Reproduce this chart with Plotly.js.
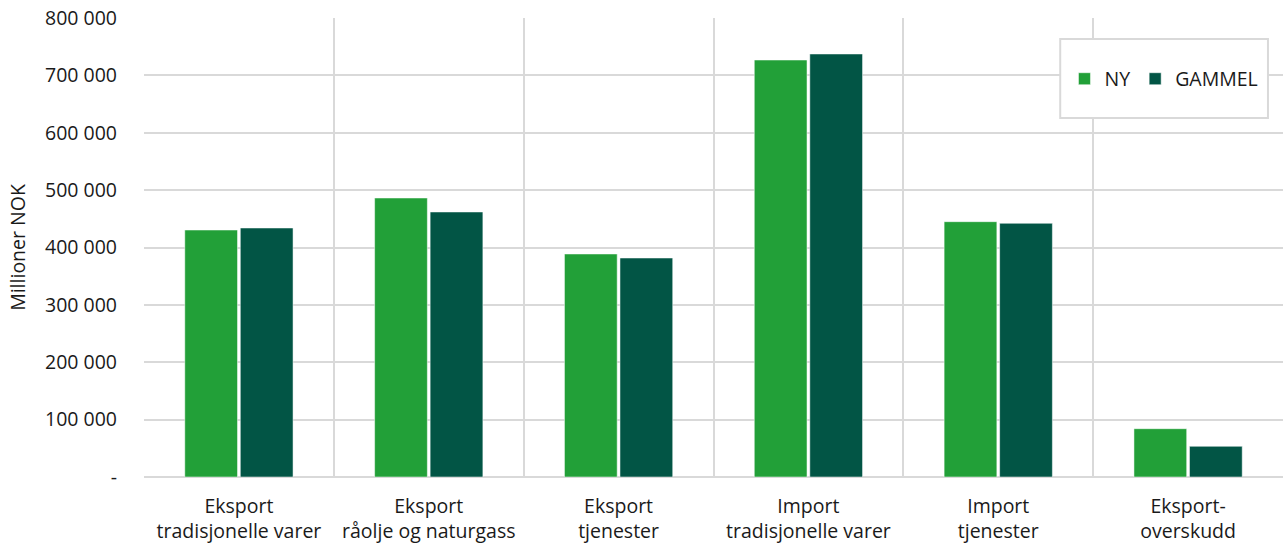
<!DOCTYPE html>
<html>
<head>
<meta charset="utf-8">
<script src="https://cdn.plot.ly/plotly-3.0.1.min.js"></script>
<style>
  html, body { margin: 0; padding: 0; background: #ffffff; }
  #chart { width: 1284px; height: 547px; }
</style>
</head>
<body>
<div id="chart"></div>
<script>
const categories = [
  "Eksport<br>tradisjonelle varer",
  "Eksport<br>råolje og naturgass",
  "Eksport<br>tjenester",
  "Import<br>tradisjonelle varer",
  "Import<br>tjenester",
  "Eksport-<br>overskudd"
];
const nyValues = [430500, 486300, 388700, 726800, 445000, 84200];
const gammelValues = [434000, 461900, 381700, 737300, 442200, 53500];
const yTickVals = [0, 100000, 200000, 300000, 400000, 500000, 600000, 700000, 800000];
const yTickText = ["-", "100 000", "200 000", "300 000", "400 000", "500 000", "600 000", "700 000", "800 000"];

const xPos = categories.map((_, i) => i);
const fontFam = "'Open Sans', 'Noto Sans', sans-serif";
const fsz = 19.5;

const traces = [
  {
    type: "bar", name: "NY", x: xPos, y: nyValues,
    marker: { color: "#22A038", line: { color: "rgba(255,255,255,0.5)", width: 1 } },
    hoverinfo: "y"
  },
  {
    type: "bar", name: "GAMMEL", x: xPos, y: gammelValues,
    marker: { color: "#025545", line: { color: "rgba(255,255,255,0.5)", width: 1 } },
    hoverinfo: "y"
  }
];

const layout = {
  width: 1284, height: 547,
  margin: { l: 144, r: 1, t: 18, b: 70 },
  paper_bgcolor: "#ffffff", plot_bgcolor: "#ffffff",
  font: { family: fontFam, size: fsz, color: "#1a1a1a" },
  barmode: "group",
  bargap: 0.415,
  bargroupgap: 0.05,
  showlegend: true,
  legend: {
    orientation: "h",
    x: 0.8955, xanchor: "center",
    y: 0.867, yanchor: "middle",
    bgcolor: "rgba(0,0,0,0)",
    borderwidth: 0,
    font: { family: fontFam, size: fsz, color: "#1a1a1a" },
    itemwidth: 30
  },
  xaxis: {
    type: "linear",
    range: [-0.5, 5.5],
    tickvals: xPos,
    ticktext: categories,
    showgrid: false,
    zeroline: false,
    ticks: "",
    ticklabelstandoff: 15,
    tickfont: { family: fontFam, size: fsz, color: "#1a1a1a" },
    minor: { tick0: -0.5, dtick: 1, showgrid: true, gridcolor: "#d9d9d9", gridwidth: 2, ticks: "" },
    fixedrange: true
  },
  yaxis: {
    range: [0, 800000],
    tickvals: yTickVals,
    ticktext: yTickText,
    showgrid: true,
    gridcolor: "#d9d9d9",
    gridwidth: 2,
    zeroline: true,
    zerolinecolor: "#d9d9d9",
    zerolinewidth: 2,
    ticks: "",
    ticklabelstandoff: 26,
    tickfont: { family: fontFam, size: fsz, color: "#1a1a1a" },
    title: { text: "Millioner NOK", font: { family: fontFam, size: fsz, color: "#1a1a1a" }, standoff: 14 },
    fixedrange: true
  },
  shapes: [
    {
      type: "rect", xref: "paper", yref: "paper",
      x0: 0.8044, x1: 0.9868, y0: 0.7821, y1: 0.9542,
      line: { color: "#d9d9d9", width: 2 },
      fillcolor: "#ffffff",
      layer: "above"
    }
  ]
};

Plotly.newPlot("chart", traces, layout, { displayModeBar: false, staticPlot: true });
</script>
</body>
</html>
